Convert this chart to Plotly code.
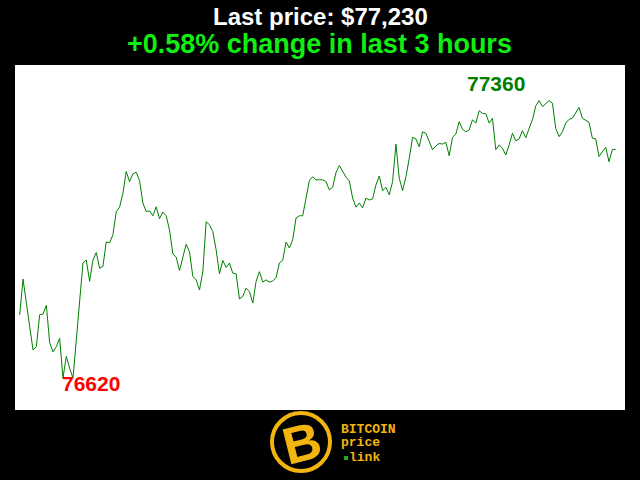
import plotly.graph_objects as go

# ---- data ----
minutes = list(range(180))
prices = [
    76789, 76884, 76821, 76758, 76695, 76704, 76789, 76791, 76814, 76715,
    76690, 76704, 76726, 76620, 76678, 76647, 76620, 76722, 76824, 76927,
    76935, 76878, 76935, 76955, 76913, 76918, 76983, 76981, 77002, 77064,
    77076, 77113, 77171, 77144, 77165, 77169, 77147, 77087, 77064, 77066,
    77053, 77077, 77045, 77063, 77053, 77015, 76951, 76943, 76907, 76944,
    76977, 76957, 76891, 76882, 76855, 76904, 77037, 77029, 77011, 76962,
    76898, 76934, 76915, 76927, 76900, 76898, 76831, 76838, 76860, 76851,
    76820, 76878, 76904, 76876, 76882, 76876, 76879, 76888, 76927, 76934,
    76983, 76967, 76989, 77047, 77053, 77053, 77100, 77147, 77157, 77149,
    77149, 77149, 77144, 77122, 77129, 77168, 77187, 77173, 77156, 77146,
    77100, 77076, 77087, 77074, 77100, 77095, 77098, 77135, 77159, 77120,
    77129, 77109, 77144, 77244, 77153, 77120, 77157, 77206, 77262, 77258,
    77237, 77277, 77273, 77251, 77229, 77239, 77246, 77244, 77249, 77213,
    77262, 77271, 77304, 77284, 77277, 77282, 77309, 77300, 77333, 77326,
    77325, 77300, 77313, 77229, 77242, 77233, 77215, 77242, 77273, 77253,
    77258, 77280, 77261, 77286, 77309, 77346, 77360, 77344, 77351, 77360,
    77353, 77286, 77264, 77277, 77300, 77310, 77313, 77328, 77342, 77313,
    77307, 77302, 77260, 77258, 77211, 77222, 77236, 77197, 77230, 77230,
]
title_line1 = "Last price: $77,230"
title_line2 = "+0.58% change in last 3 hours"
logo_lines = ["BITCOIN", "price", "link"]

max_val = max(prices)
min_val = min(prices)
min_idx = prices.index(min_val)

GOLD = "#f2b50f"

fig = go.Figure()
fig.add_trace(go.Scatter(
    x=minutes, y=prices, mode="lines",
    line=dict(color="#008000", width=1),
    hoverinfo="skip", showlegend=False,
))

W, H = 640, 480
L, R, T, B = 15, 15, 65, 70
pw, ph = W - L - R, H - T - B


def px_x(x):
    return (x - L) / pw


def px_y(y):
    return (H - B - y) / ph


annotations = [
    dict(text=title_line1, xref="paper", yref="paper", x=px_x(320), y=px_y(17),
         xanchor="center", yanchor="middle", showarrow=False,
         font=dict(family="Liberation Sans", size=24, color="white", weight="bold")),
    dict(text=title_line2, xref="paper", yref="paper", x=px_x(319), y=px_y(44),
         xanchor="center", yanchor="middle", showarrow=False,
         font=dict(family="Liberation Sans", size=27, color="#11ee11", weight="bold")),
    dict(text=str(max_val), x=143, y=77407, xref="x", yref="y",
         xanchor="center", yanchor="middle", showarrow=False,
         font=dict(family="Liberation Sans", size=21, color="#008000", weight="bold")),
    dict(text=str(min_val), x=min_idx, y=76607, xref="x", yref="y",
         xanchor="left", yanchor="middle", showarrow=False, xshift=-3,
         font=dict(family="Liberation Sans", size=21, color="#ff0000", weight="bold")),
    # logo
    dict(text="B", xref="paper", yref="paper", x=px_x(302), y=px_y(443),
         xanchor="center", yanchor="middle", showarrow=False, textangle=-14,
         font=dict(family="Liberation Sans", size=52, color=GOLD, weight="bold")),
    dict(text=logo_lines[0], xref="paper", yref="paper", x=px_x(339), y=px_y(429),
         xanchor="left", yanchor="middle", showarrow=False,
         font=dict(family="Liberation Mono", size=13, color=GOLD, weight="bold")),
    dict(text=logo_lines[1], xref="paper", yref="paper", x=px_x(339), y=px_y(443),
         xanchor="left", yanchor="middle", showarrow=False,
         font=dict(family="Liberation Mono", size=13, color=GOLD, weight="bold")),
    dict(text=logo_lines[2], xref="paper", yref="paper", x=px_x(347), y=px_y(457),
         xanchor="left", yanchor="middle", showarrow=False,
         font=dict(family="Liberation Mono", size=13, color=GOLD, weight="bold")),
]

shapes = [
    dict(type="circle", xref="paper", yref="paper",
         x0=px_x(272), x1=px_x(330), y0=px_y(413), y1=px_y(471),
         line=dict(color=GOLD, width=4), fillcolor="black", layer="above"),
    dict(type="rect", xref="paper", yref="paper",
         x0=px_x(344), x1=px_x(348), y0=px_y(456), y1=px_y(460),
         line=dict(width=0), fillcolor="#22aa22", layer="above"),
]

fig.update_layout(
    width=W, height=H,
    margin=dict(l=L, r=R, t=T, b=B, pad=0),
    paper_bgcolor="black", plot_bgcolor="white",
    xaxis=dict(range=[-1.41, 181.8], visible=False, fixedrange=True),
    yaxis=dict(range=[76535, 77455], visible=False, fixedrange=True),
    annotations=annotations, shapes=shapes,
    showlegend=False,
)

fig.write_html(
    "out.html",
    config={"displayModeBar": False},
    post_script="document.body.style.margin='0';document.body.style.background='black';",
)
